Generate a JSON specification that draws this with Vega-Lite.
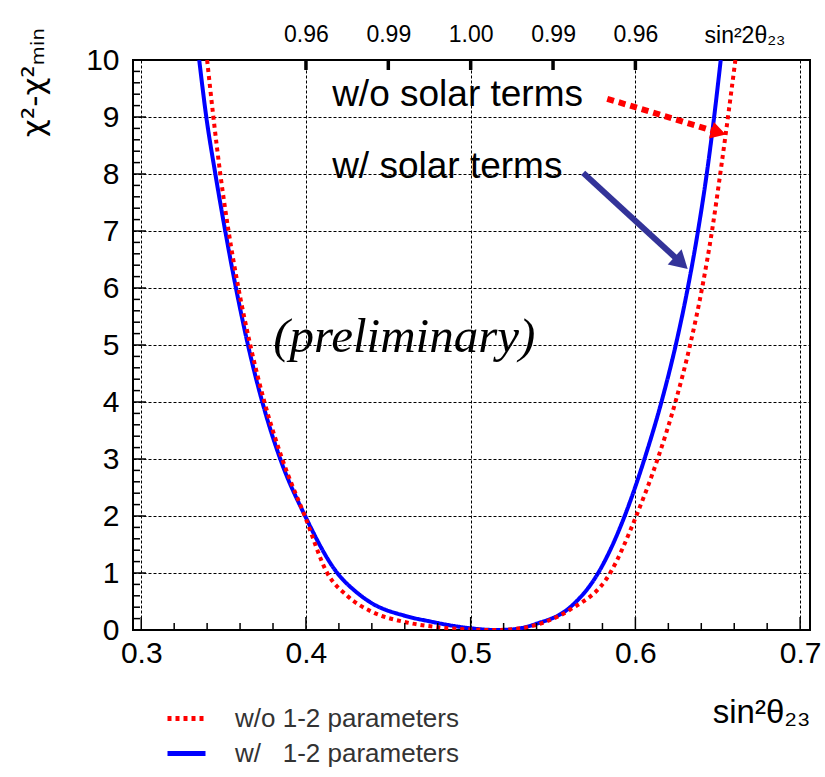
{
  "$schema": "https://vega.github.io/schema/vega-lite/v6.json",
  "width": 677,
  "height": 570,
  "autosize": {"type": "none"},
  "padding": {"left": 133, "top": 60, "right": 15, "bottom": 147},
  "background": "white",
  "view": {"stroke": "#000", "strokeWidth": 2},
  "datasets": {
    "curves": [
      {"series": "w/\u00a0\u00a0 1-2 parameters", "x": 0.3352, "y": 10},
      {"series": "w/\u00a0\u00a0 1-2 parameters", "x": 0.3395, "y": 9},
      {"series": "w/\u00a0\u00a0 1-2 parameters", "x": 0.345, "y": 8},
      {"series": "w/\u00a0\u00a0 1-2 parameters", "x": 0.351, "y": 7},
      {"series": "w/\u00a0\u00a0 1-2 parameters", "x": 0.3575, "y": 6},
      {"series": "w/\u00a0\u00a0 1-2 parameters", "x": 0.3648, "y": 5},
      {"series": "w/\u00a0\u00a0 1-2 parameters", "x": 0.3735, "y": 4},
      {"series": "w/\u00a0\u00a0 1-2 parameters", "x": 0.3844, "y": 3},
      {"series": "w/\u00a0\u00a0 1-2 parameters", "x": 0.3995, "y": 2},
      {"series": "w/\u00a0\u00a0 1-2 parameters", "x": 0.419, "y": 1},
      {"series": "w/\u00a0\u00a0 1-2 parameters", "x": 0.43, "y": 0.68},
      {"series": "w/\u00a0\u00a0 1-2 parameters", "x": 0.44, "y": 0.47},
      {"series": "w/\u00a0\u00a0 1-2 parameters", "x": 0.46, "y": 0.25},
      {"series": "w/\u00a0\u00a0 1-2 parameters", "x": 0.4754, "y": 0.15},
      {"series": "w/\u00a0\u00a0 1-2 parameters", "x": 0.49, "y": 0.07},
      {"series": "w/\u00a0\u00a0 1-2 parameters", "x": 0.5, "y": 0.03},
      {"series": "w/\u00a0\u00a0 1-2 parameters", "x": 0.515, "y": 0.0},
      {"series": "w/\u00a0\u00a0 1-2 parameters", "x": 0.525, "y": 0.01},
      {"series": "w/\u00a0\u00a0 1-2 parameters", "x": 0.54, "y": 0.11},
      {"series": "w/\u00a0\u00a0 1-2 parameters", "x": 0.56, "y": 0.39},
      {"series": "w/\u00a0\u00a0 1-2 parameters", "x": 0.5774, "y": 1},
      {"series": "w/\u00a0\u00a0 1-2 parameters", "x": 0.5935, "y": 2},
      {"series": "w/\u00a0\u00a0 1-2 parameters", "x": 0.6055, "y": 3},
      {"series": "w/\u00a0\u00a0 1-2 parameters", "x": 0.6158, "y": 4},
      {"series": "w/\u00a0\u00a0 1-2 parameters", "x": 0.6245, "y": 5},
      {"series": "w/\u00a0\u00a0 1-2 parameters", "x": 0.6318, "y": 6},
      {"series": "w/\u00a0\u00a0 1-2 parameters", "x": 0.638, "y": 7},
      {"series": "w/\u00a0\u00a0 1-2 parameters", "x": 0.6433, "y": 8},
      {"series": "w/\u00a0\u00a0 1-2 parameters", "x": 0.6478, "y": 9},
      {"series": "w/\u00a0\u00a0 1-2 parameters", "x": 0.6518, "y": 10},
      {"series": "w/o 1-2 parameters", "x": 0.34, "y": 10},
      {"series": "w/o 1-2 parameters", "x": 0.3438, "y": 9},
      {"series": "w/o 1-2 parameters", "x": 0.348, "y": 8},
      {"series": "w/o 1-2 parameters", "x": 0.353, "y": 7},
      {"series": "w/o 1-2 parameters", "x": 0.359, "y": 6},
      {"series": "w/o 1-2 parameters", "x": 0.3662, "y": 5},
      {"series": "w/o 1-2 parameters", "x": 0.3748, "y": 4},
      {"series": "w/o 1-2 parameters", "x": 0.3856, "y": 3},
      {"series": "w/o 1-2 parameters", "x": 0.3993, "y": 2},
      {"series": "w/o 1-2 parameters", "x": 0.4129, "y": 1},
      {"series": "w/o 1-2 parameters", "x": 0.425, "y": 0.6},
      {"series": "w/o 1-2 parameters", "x": 0.44, "y": 0.32},
      {"series": "w/o 1-2 parameters", "x": 0.46, "y": 0.14},
      {"series": "w/o 1-2 parameters", "x": 0.48, "y": 0.05},
      {"series": "w/o 1-2 parameters", "x": 0.5, "y": 0.01},
      {"series": "w/o 1-2 parameters", "x": 0.515, "y": 0.0},
      {"series": "w/o 1-2 parameters", "x": 0.53, "y": 0.03},
      {"series": "w/o 1-2 parameters", "x": 0.545, "y": 0.14},
      {"series": "w/o 1-2 parameters", "x": 0.56, "y": 0.35},
      {"series": "w/o 1-2 parameters", "x": 0.5847, "y": 1},
      {"series": "w/o 1-2 parameters", "x": 0.6005, "y": 2},
      {"series": "w/o 1-2 parameters", "x": 0.6135, "y": 3},
      {"series": "w/o 1-2 parameters", "x": 0.6243, "y": 4},
      {"series": "w/o 1-2 parameters", "x": 0.6332, "y": 5},
      {"series": "w/o 1-2 parameters", "x": 0.6405, "y": 6},
      {"series": "w/o 1-2 parameters", "x": 0.6465, "y": 7},
      {"series": "w/o 1-2 parameters", "x": 0.6515, "y": 8},
      {"series": "w/o 1-2 parameters", "x": 0.6562, "y": 9},
      {"series": "w/o 1-2 parameters", "x": 0.6607, "y": 10}
    ],
    "arrows": [
      {"name": "wo", "x0": 0.5829, "y0": 9.32, "x1": 0.6505, "y1": 8.73},
      {"name": "w", "x0": 0.5683, "y0": 8.02, "x1": 0.6278, "y1": 6.44}
    ],
    "notes": [
      {"role": "solar", "text": "w/o solar terms", "x": 0.4159, "y": 9.39},
      {"role": "solar", "text": "w/ solar terms", "x": 0.4159, "y": 8.12},
      {"role": "prelim", "text": "(preliminary)", "x": 0.3801, "y": 5.14},
      {"role": "ytitle", "text": "χ²-χ²ₘᵢₙ", "x": 0.2355, "y": 10.56}
    ],
    "axisticks": [
      {"dim": "x", "kind": "major", "v": 0.3}, {"dim": "x", "kind": "major", "v": 0.4}, {"dim": "x", "kind": "major", "v": 0.5}, {"dim": "x", "kind": "major", "v": 0.6}, {"dim": "x", "kind": "major", "v": 0.7},
      {"dim": "x", "kind": "minor", "v": 0.32}, {"dim": "x", "kind": "minor", "v": 0.34}, {"dim": "x", "kind": "minor", "v": 0.36}, {"dim": "x", "kind": "minor", "v": 0.38},
      {"dim": "x", "kind": "minor", "v": 0.42}, {"dim": "x", "kind": "minor", "v": 0.44}, {"dim": "x", "kind": "minor", "v": 0.46}, {"dim": "x", "kind": "minor", "v": 0.48},
      {"dim": "x", "kind": "minor", "v": 0.52}, {"dim": "x", "kind": "minor", "v": 0.54}, {"dim": "x", "kind": "minor", "v": 0.56}, {"dim": "x", "kind": "minor", "v": 0.58},
      {"dim": "x", "kind": "minor", "v": 0.62}, {"dim": "x", "kind": "minor", "v": 0.64}, {"dim": "x", "kind": "minor", "v": 0.66}, {"dim": "x", "kind": "minor", "v": 0.68},
      {"dim": "top", "kind": "major", "v": 0.4}, {"dim": "top", "kind": "major", "v": 0.45}, {"dim": "top", "kind": "major", "v": 0.5}, {"dim": "top", "kind": "major", "v": 0.55}, {"dim": "top", "kind": "major", "v": 0.6},
      {"dim": "y", "kind": "major", "v": 1}, {"dim": "y", "kind": "major", "v": 2}, {"dim": "y", "kind": "major", "v": 3}, {"dim": "y", "kind": "major", "v": 4}, {"dim": "y", "kind": "major", "v": 5},
      {"dim": "y", "kind": "major", "v": 6}, {"dim": "y", "kind": "major", "v": 7}, {"dim": "y", "kind": "major", "v": 8}, {"dim": "y", "kind": "major", "v": 9},
      {"dim": "y", "kind": "minor", "v": 0.2}, {"dim": "y", "kind": "minor", "v": 0.4}, {"dim": "y", "kind": "minor", "v": 0.6}, {"dim": "y", "kind": "minor", "v": 0.8},
      {"dim": "y", "kind": "minor", "v": 1.2}, {"dim": "y", "kind": "minor", "v": 1.4}, {"dim": "y", "kind": "minor", "v": 1.6}, {"dim": "y", "kind": "minor", "v": 1.8},
      {"dim": "y", "kind": "minor", "v": 2.2}, {"dim": "y", "kind": "minor", "v": 2.4}, {"dim": "y", "kind": "minor", "v": 2.6}, {"dim": "y", "kind": "minor", "v": 2.8},
      {"dim": "y", "kind": "minor", "v": 3.2}, {"dim": "y", "kind": "minor", "v": 3.4}, {"dim": "y", "kind": "minor", "v": 3.6}, {"dim": "y", "kind": "minor", "v": 3.8},
      {"dim": "y", "kind": "minor", "v": 4.2}, {"dim": "y", "kind": "minor", "v": 4.4}, {"dim": "y", "kind": "minor", "v": 4.6}, {"dim": "y", "kind": "minor", "v": 4.8},
      {"dim": "y", "kind": "minor", "v": 5.2}, {"dim": "y", "kind": "minor", "v": 5.4}, {"dim": "y", "kind": "minor", "v": 5.6}, {"dim": "y", "kind": "minor", "v": 5.8},
      {"dim": "y", "kind": "minor", "v": 6.2}, {"dim": "y", "kind": "minor", "v": 6.4}, {"dim": "y", "kind": "minor", "v": 6.6}, {"dim": "y", "kind": "minor", "v": 6.8},
      {"dim": "y", "kind": "minor", "v": 7.2}, {"dim": "y", "kind": "minor", "v": 7.4}, {"dim": "y", "kind": "minor", "v": 7.6}, {"dim": "y", "kind": "minor", "v": 7.8},
      {"dim": "y", "kind": "minor", "v": 8.2}, {"dim": "y", "kind": "minor", "v": 8.4}, {"dim": "y", "kind": "minor", "v": 8.6}, {"dim": "y", "kind": "minor", "v": 8.8},
      {"dim": "y", "kind": "minor", "v": 9.2}, {"dim": "y", "kind": "minor", "v": 9.4}, {"dim": "y", "kind": "minor", "v": 9.6}, {"dim": "y", "kind": "minor", "v": 9.8}
    ]
  },
  "resolve": {"axis": {"x": "independent", "y": "independent"}},
  "layer": [
    {
      "data": {"name": "curves"},
      "mark": {"type": "line", "strokeWidth": 4, "interpolate": "monotone", "strokeCap": "butt", "clip": true},
      "encoding": {
        "x": {
          "field": "x", "type": "quantitative",
          "scale": {"domain": [0.295, 0.706], "nice": false, "zero": false},
          "axis": {
            "orient": "bottom",
            "values": [0.3, 0.4, 0.5, 0.6, 0.7],
            "format": ".1f",
            "labelOverlap": false, "labelFlush": false, "labelBound": false,
            "labelFont": "Liberation Sans", "labelFontSize": 30, "labelColor": "#000", "labelPadding": 8,
            "domain": false, "ticks": false,
            "grid": true, "gridColor": "#000", "gridDash": [3, 2], "gridWidth": 1, "gridOpacity": 1,
            "title": "sin²θ₂₃", "titleFont": "Liberation Sans", "titleFontSize": 33, "titleFontWeight": "normal", "titleColor": "#000",
            "titleX": 677, "titleY": 92, "titleAlign": "right", "titleBaseline": "alphabetic", "titleAngle": 0
          }
        },
        "y": {
          "field": "y", "type": "quantitative",
          "scale": {"domain": [0, 10], "nice": false, "zero": false},
          "axis": {
            "orient": "left",
            "values": [0, 1, 2, 3, 4, 5, 6, 7, 8, 9, 10],
            "format": "d",
            "labelOverlap": false, "labelFlush": false, "labelBound": false,
            "labelFont": "Liberation Sans", "labelFontSize": 30, "labelColor": "#000", "labelPadding": 14,
            "domain": false, "ticks": false,
            "grid": true, "gridColor": "#000", "gridDash": [3, 2], "gridWidth": 1, "gridOpacity": 1,
            "title": null
          }
        },
        "color": {
          "field": "series", "type": "nominal",
          "scale": {"domain": ["w/o 1-2 parameters", "w/\u00a0\u00a0 1-2 parameters"], "range": ["#ff0000", "#0000ff"]},
          "legend": {
            "orient": "none", "legendX": 32, "legendY": 637, "title": null,
            "symbolType": "stroke", "symbolSize": 1444, "symbolStrokeWidth": 5,
            "labelFont": "Liberation Sans", "labelFontSize": 26, "labelColor": "#333", "labelOffset": 27,
            "rowPadding": -4, "padding": 0, "labelLimit": 400
          }
        },
        "strokeDash": {
          "field": "series", "type": "nominal",
          "scale": {"domain": ["w/o 1-2 parameters", "w/\u00a0\u00a0 1-2 parameters"], "range": [[4, 4], [1, 0]]}
        }
      }
    },
    {
      "data": {"name": "arrows"},
      "transform": [{"filter": "datum.name == 'wo'"}],
      "mark": {"type": "rule", "color": "#ff0000", "strokeWidth": 6, "strokeDash": [7, 5], "strokeCap": "butt"},
      "encoding": {
        "x": {
          "field": "x0", "type": "quantitative",
          "scale": {"domain": [0.295, 0.706], "nice": false, "zero": false},
          "axis": {
            "orient": "top",
            "values": [0.4, 0.45, 0.5, 0.55, 0.6],
            "labelExpr": "format(4*datum.value*(1-datum.value), '.2f')",
            "labelOverlap": false, "labelFlush": false, "labelBound": false,
            "labelFont": "Liberation Sans", "labelFontSize": 23, "labelColor": "#000", "labelPadding": 14,
            "domain": false, "grid": false, "ticks": false,
            "title": "sin²2θ₂₃", "titleFont": "Liberation Sans", "titleFontSize": 23, "titleFontWeight": "normal", "titleColor": "#000",
            "titleX": 652, "titleY": -18, "titleAlign": "right", "titleBaseline": "alphabetic", "titleAngle": 0
          }
        },
        "y": {"field": "y0", "type": "quantitative", "scale": {"domain": [0, 10], "nice": false, "zero": false}, "axis": null},
        "x2": {"field": "x1"},
        "y2": {"field": "y1"}
      }
    },
    {
      "data": {"name": "arrows"},
      "transform": [{"filter": "datum.name == 'w'"}],
      "mark": {"type": "rule", "color": "#333399", "strokeWidth": 6, "strokeCap": "butt"},
      "encoding": {
        "x": {"field": "x0", "type": "quantitative", "scale": {"domain": [0.295, 0.706], "nice": false, "zero": false}, "axis": null},
        "y": {"field": "y0", "type": "quantitative", "scale": {"domain": [0, 10], "nice": false, "zero": false}, "axis": null},
        "x2": {"field": "x1"},
        "y2": {"field": "y1"}
      }
    },
    {
      "data": {"name": "arrows"},
      "transform": [{"filter": "datum.name == 'wo'"}],
      "mark": {"type": "point", "shape": "triangle-right", "filled": true, "color": "#ff0000", "opacity": 1, "size": 300, "angle": 16.7},
      "encoding": {
        "x": {"field": "x1", "type": "quantitative", "scale": {"domain": [0.295, 0.706], "nice": false, "zero": false}, "axis": null},
        "y": {"field": "y1", "type": "quantitative", "scale": {"domain": [0, 10], "nice": false, "zero": false}, "axis": null}
      }
    },
    {
      "data": {"name": "arrows"},
      "transform": [{"filter": "datum.name == 'w'"}],
      "mark": {"type": "point", "shape": "triangle-right", "filled": true, "color": "#333399", "opacity": 1, "size": 420, "angle": 42.7},
      "encoding": {
        "x": {"field": "x1", "type": "quantitative", "scale": {"domain": [0.295, 0.706], "nice": false, "zero": false}, "axis": null},
        "y": {"field": "y1", "type": "quantitative", "scale": {"domain": [0, 10], "nice": false, "zero": false}, "axis": null}
      }
    },
    {
      "data": {"name": "axisticks"},
      "transform": [{"filter": "datum.dim == 'x' && datum.kind == 'major'"}],
      "mark": {"type": "rule", "color": "#000", "strokeWidth": 1.5, "opacity": 1},
      "encoding": {
        "x": {"field": "v", "type": "quantitative", "scale": {"domain": [0.295, 0.706], "nice": false, "zero": false}, "axis": null},
        "y": {"datum": 0, "type": "quantitative", "scale": {"domain": [0, 10], "nice": false, "zero": false}, "axis": null},
        "y2": {"datum": 0.228}
      }
    },
    {
      "data": {"name": "axisticks"},
      "transform": [{"filter": "datum.dim == 'x' && datum.kind == 'minor'"}],
      "mark": {"type": "rule", "color": "#000", "strokeWidth": 1.5, "opacity": 1},
      "encoding": {
        "x": {"field": "v", "type": "quantitative", "scale": {"domain": [0.295, 0.706], "nice": false, "zero": false}, "axis": null},
        "y": {"datum": 0, "type": "quantitative", "scale": {"domain": [0, 10], "nice": false, "zero": false}, "axis": null},
        "y2": {"datum": 0.123}
      }
    },
    {
      "data": {"name": "axisticks"},
      "transform": [{"filter": "datum.dim == 'top'"}],
      "mark": {"type": "rule", "color": "#000", "strokeWidth": 3.5, "opacity": 1},
      "encoding": {
        "x": {"field": "v", "type": "quantitative", "scale": {"domain": [0.295, 0.706], "nice": false, "zero": false}, "axis": null},
        "y": {"datum": 10, "type": "quantitative", "scale": {"domain": [0, 10], "nice": false, "zero": false}, "axis": null},
        "y2": {"datum": 9.825}
      }
    },
    {
      "data": {"name": "axisticks"},
      "transform": [{"filter": "datum.dim == 'y' && datum.kind == 'major'"}],
      "mark": {"type": "rule", "color": "#000", "strokeWidth": 1.5, "opacity": 1},
      "encoding": {
        "x": {"datum": 0.295, "type": "quantitative", "scale": {"domain": [0.295, 0.706], "nice": false, "zero": false}, "axis": null},
        "x2": {"datum": 0.3029},
        "y": {"field": "v", "type": "quantitative", "scale": {"domain": [0, 10], "nice": false, "zero": false}, "axis": null}
      }
    },
    {
      "data": {"name": "axisticks"},
      "transform": [{"filter": "datum.dim == 'y' && datum.kind == 'minor'"}],
      "mark": {"type": "rule", "color": "#000", "strokeWidth": 1.5, "opacity": 1},
      "encoding": {
        "x": {"datum": 0.295, "type": "quantitative", "scale": {"domain": [0.295, 0.706], "nice": false, "zero": false}, "axis": null},
        "x2": {"datum": 0.29925},
        "y": {"field": "v", "type": "quantitative", "scale": {"domain": [0, 10], "nice": false, "zero": false}, "axis": null}
      }
    },
    {
      "data": {"name": "notes"},
      "transform": [{"filter": "datum.role == 'solar'"}],
      "mark": {"type": "text", "align": "left", "baseline": "middle", "font": "Liberation Sans", "fontSize": 37, "color": "#000"},
      "encoding": {
        "x": {"field": "x", "type": "quantitative", "scale": {"domain": [0.295, 0.706], "nice": false, "zero": false}, "axis": null},
        "y": {"field": "y", "type": "quantitative", "scale": {"domain": [0, 10], "nice": false, "zero": false}, "axis": null},
        "text": {"field": "text"}
      }
    },
    {
      "data": {"name": "notes"},
      "transform": [{"filter": "datum.role == 'prelim'"}],
      "mark": {"type": "text", "align": "left", "baseline": "middle", "font": "Liberation Serif", "fontStyle": "italic", "fontSize": 49, "color": "#000"},
      "encoding": {
        "x": {"field": "x", "type": "quantitative", "scale": {"domain": [0.295, 0.706], "nice": false, "zero": false}, "axis": null},
        "y": {"field": "y", "type": "quantitative", "scale": {"domain": [0, 10], "nice": false, "zero": false}, "axis": null},
        "text": {"field": "text"}
      }
    },
    {
      "data": {"name": "notes"},
      "transform": [{"filter": "datum.role == 'ytitle'"}],
      "mark": {"type": "text", "align": "right", "baseline": "middle", "angle": 270, "font": "DejaVu Sans", "fontSize": 31, "color": "#000"},
      "encoding": {
        "x": {"field": "x", "type": "quantitative", "scale": {"domain": [0.295, 0.706], "nice": false, "zero": false}, "axis": null},
        "y": {"field": "y", "type": "quantitative", "scale": {"domain": [0, 10], "nice": false, "zero": false}, "axis": null},
        "text": {"field": "text"}
      }
    }
  ]
}
